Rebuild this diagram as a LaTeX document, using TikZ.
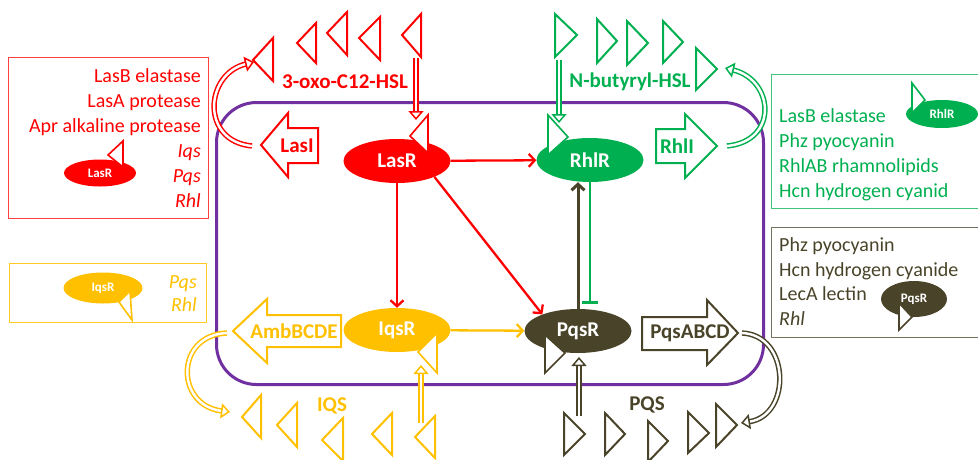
\documentclass[tikz,border=0pt]{standalone}
\usepackage{fontspec}
\setmainfont{Carlito}
\usetikzlibrary{shapes.geometric,arrows.meta,calc}
\definecolor{lasred}{HTML}{FF0000}
\definecolor{rhlgreen}{HTML}{00B050}
\definecolor{iqsgold}{HTML}{FFC000}
\definecolor{pqsolive}{HTML}{494429}
\definecolor{cellpurple}{HTML}{7030A0}

\begin{document}
\begin{tikzpicture}[x=1pt,y=-1pt,
  regulator/.style={ellipse, inner sep=0pt, minimum width=107pt, minimum height=44pt,
    text=white, font=\fontsize{21}{21}\selectfont\bfseries},
  minireg/.style={ellipse, inner sep=0pt, minimum width=72pt, minimum height=27pt,
    text=white, font=\fontsize{13}{13}\selectfont\bfseries},
  signal/.style={line width=2pt, fill=white, line join=miter},
  receptor/.style={line width=1.6pt, fill=white},
  gene/.style={line width=2pt, fill=white},
  genelabel/.style={font=\fontsize{21}{21}\selectfont\bfseries, inner sep=0pt},
  hollow/.style={double=white, double distance=2.4pt, line width=1.5pt,
    -{Triangle[open,length=9pt,width=15pt]}},
  activ/.style={line width=2.3pt, -{Straight Barb[length=6pt,width=13pt]}},
  boxtext/.style={font=\fontsize{20}{20}\selectfont, inner sep=0pt},
  infobox/.style={line width=1.3pt, anchor=north west, inner sep=0pt},
]
\useasboundingbox (0,0) rectangle (978,459);

% cell envelope
\node[draw=cellpurple, line width=3pt, rounded corners=40pt, anchor=north west,
  inner sep=0pt, minimum width=547pt, minimum height=282pt] (cell) at (215,101) {};

% ---------- information boxes ----------
\node[infobox, draw=lasred!75, minimum width=200pt, minimum height=161pt] (lasbox) at (8,57) {};
\node[boxtext, text=lasred, anchor=base east] (las1) at (201,82) {LasB elastase};
\node[boxtext, text=lasred, anchor=base east] (las2) at (201,107) {LasA protease};
\node[boxtext, text=lasred, anchor=base east] (las3) at (201,132) {Apr alkaline protease};
\node[boxtext, text=lasred, anchor=base east] (las4) at (201,157) {\itshape Iqs};
\node[boxtext, text=lasred, anchor=base east] (las5) at (201,182) {\itshape Pqs};
\node[boxtext, text=lasred, anchor=base east] (las6) at (201,207) {\itshape Rhl};
\node[minireg, fill=lasred] (minilas) at (100,173) {LasR};
\draw[receptor, draw=lasred] (123,141) -- (123,167) -- (108,155) -- cycle;

\node[infobox, draw=rhlgreen!75, minimum width=220pt, minimum height=134pt] (rhlbox) at (771,74) {};
\node[boxtext, text=rhlgreen, anchor=base west] (rhl1) at (779,122) {LasB elastase};
\node[boxtext, text=rhlgreen, anchor=base west] (rhl2) at (779,147) {Phz pyocyanin};
\node[boxtext, text=rhlgreen, anchor=base west] (rhl3) at (779,172) {RhlAB rhamnolipids};
\node[boxtext, text=rhlgreen, anchor=base west] (rhl4) at (779,197) {Hcn hydrogen cyanid};
\node[minireg, fill=rhlgreen, minimum height=28pt] (minirhl) at (942,114) {RhlR};
\draw[receptor, draw=rhlgreen] (912,83) -- (912,113) -- (925,100) -- cycle;

\node[infobox, draw=iqsgold!85, minimum width=197pt, minimum height=59pt] (iqsbox) at (9,263) {};
\node[boxtext, text=iqsgold, anchor=base east] (iqs1) at (197,288) {\itshape Pqs};
\node[boxtext, text=iqsgold, anchor=base east] (iqs2) at (197,311) {\itshape Rhl};
\node[minireg, fill=iqsgold, minimum width=79pt, minimum height=31pt] (miniiqs) at (103,288) {IqsR};
\draw[receptor, draw=iqsgold] (130,291) -- (132,320) -- (119,302) -- cycle;

\node[infobox, draw=pqsolive!75, minimum width=220pt, minimum height=110pt] (pqsbox) at (771,227) {};
\node[boxtext, text=pqsolive, anchor=base west] (pqs1) at (779,251) {Phz pyocyanin};
\node[boxtext, text=pqsolive, anchor=base west] (pqs2) at (779,276) {Hcn hydrogen cyanide};
\node[boxtext, text=pqsolive, anchor=base west] (pqs3) at (779,300) {LecA lectin};
\node[boxtext, text=pqsolive, anchor=base west] (pqs4) at (779,325) {\itshape Rhl};
\node[minireg, fill=pqsolive, minimum width=66pt, minimum height=36pt] (minipqs) at (914,299) {PqsR};
\draw[receptor, draw=pqsolive] (899,303) -- (899,330) -- (912,317) -- cycle;

% ---------- autoinducer molecules ----------
\foreach \ex/\ea/\eb/\tx/\ty in {273/38/81/253/60, 316/23/63/297/43, 347/12/55/327/33,
    380/17/60/359/38, 421/14/57/402/35}
  \draw[signal, draw=lasred] (\ex,\ea) -- (\ex,\eb) -- (\tx,\ty) -- cycle;
\foreach \ex/\ea/\eb/\tx/\ty in {555/14/57/577/35, 597/19/63/617/41, 627/21/65/648/43,
    663/21/63/683/42, 696/48/90/717/69}
  \draw[signal, draw=rhlgreen] (\ex,\ea) -- (\ex,\eb) -- (\tx,\ty) -- cycle;
\foreach \ex/\ea/\eb/\tx/\ty in {261/395/438/242/417, 297/403/447/277/425, 343/418/461/322/440,
    392/413/455/372/434, 435/416/458/415/437}
  \draw[signal, draw=iqsgold] (\ex,\ea) -- (\ex,\eb) -- (\tx,\ty) -- cycle;
\foreach \ex/\ea/\eb/\tx/\ty in {564/413/455/585/434, 605/413/455/625/434, 648/421/462/668/441,
    688/412/453/709/433, 716/404/447/737/425}
  \draw[signal, draw=pqsolive] (\ex,\ea) -- (\ex,\eb) -- (\tx,\ty) -- cycle;

\node[genelabel, text=lasred] (oxo) at (345,82) {3-oxo-C12-HSL};
\node[genelabel, text=rhlgreen] (butyryl) at (630,82) {N-butyryl-HSL};
\node[genelabel, text=iqsgold] (iqs) at (332,406) {IQS};
\node[genelabel, text=pqsolive] (pqs) at (647,405) {PQS};

% ---------- synthase genes ----------
\draw[gene, draw=lasred] (261,145) -- (288,113) -- (288,128) -- (318,128) -- (318,163)
  -- (288,163) -- (288,177) -- cycle;
\node[genelabel, text=lasred] (lasi) at (297,146) {LasI};
\draw[gene, draw=rhlgreen] (656,129) -- (685,129) -- (685,114) -- (717,146) -- (685,178)
  -- (685,163) -- (656,163) -- cycle;
\node[genelabel, text=rhlgreen] (rhli) at (677,146) {RhlI};
\draw[gene, draw=iqsgold] (233,331) -- (267,299) -- (267,315) -- (341,315) -- (341,347)
  -- (267,347) -- (267,363) -- cycle;
\node[genelabel, text=iqsgold] (amb) at (294,331) {AmbBCDE};
\draw[gene, draw=pqsolive] (642,317) -- (707,317) -- (707,300) -- (738,333) -- (707,365)
  -- (707,350) -- (642,350) -- cycle;
\node[genelabel, text=pqsolive] (pqsabcd) at (690,333) {PqsABCD};

% ---------- regulators ----------
\node[regulator, fill=lasred] (lasr) at (397,161) {LasR};
\node[regulator, fill=rhlgreen] (rhlr) at (590,160) {RhlR};
\node[regulator, fill=iqsgold] (iqsr) at (397,330) {IqsR};
\node[regulator, fill=pqsolive] (pqsr) at (578,331) {PqsR};
\draw[receptor, draw=lasred] (428,115) -- (428,153) -- (410,136) -- cycle;
\draw[receptor, draw=rhlgreen] (548,115) -- (548,155) -- (568,137) -- cycle;
\draw[receptor, draw=iqsgold] (437,333) -- (437,373) -- (418,352) -- cycle;
\draw[receptor, draw=pqsolive] (545,335) -- (545,373) -- (565,353) -- cycle;

% ---------- regulatory links ----------
\draw[activ, lasred] (lasr) -- (rhlr);
\draw[activ, lasred] (lasr) -- (iqsr);
\draw[activ, lasred] (lasr.-23) -- (pqsr.155);
\draw[activ, iqsgold] (iqsr) -- (pqsr);
\draw[activ, pqsolive, line width=3pt] (pqsr.north) -- (pqsr.north |- rhlr.south);
\draw[rhlgreen, line width=2.6pt, -{Bar[width=16pt]}, shorten >=5pt]
  (rhlr.south) -- (rhlr.south |- pqsr.north);

% ---------- signal export and uptake ----------
\coordinate (lasiout) at (252,146);
\coordinate (oxoout) at (254,62);
\coordinate (rhliout) at (727,146);
\coordinate (butout) at (725,68);
\coordinate (ambout) at (227,333);
\coordinate (iqsout) at (230,412);
\coordinate (pqsaout) at (742,333);
\coordinate (pqsout) at (741,423);
\coordinate (oxoin) at (416,58);
\coordinate (lasrsite) at (416,120);
\coordinate (butin) at (559,60);
\coordinate (rhlrsite) at (559,123);
\coordinate (iqsin) at (421,423);
\coordinate (iqsrsite) at (421,365);
\coordinate (pqsin) at (579,416);
\coordinate (pqsrsite) at (579,357);

\draw[hollow, lasred] (lasiout) .. controls (200,141) and (205,74) .. (oxoout);
\draw[hollow, rhlgreen] (rhliout) .. controls (779,141) and (774,80) .. (butout);
\draw[hollow, iqsgold] (ambout) .. controls (175,335) and (175,405) .. (iqsout);
\draw[hollow, pqsolive] (pqsaout) .. controls (790,335) and (792,415) .. (pqsout);

\draw[hollow, lasred] (oxoin) -- (lasrsite);
\draw[hollow, rhlgreen] (butin) -- (rhlrsite);
\draw[hollow, iqsgold] (iqsin) -- (iqsrsite);
\draw[hollow, pqsolive] (pqsin) -- (pqsrsite);
\end{tikzpicture}
\end{document}
